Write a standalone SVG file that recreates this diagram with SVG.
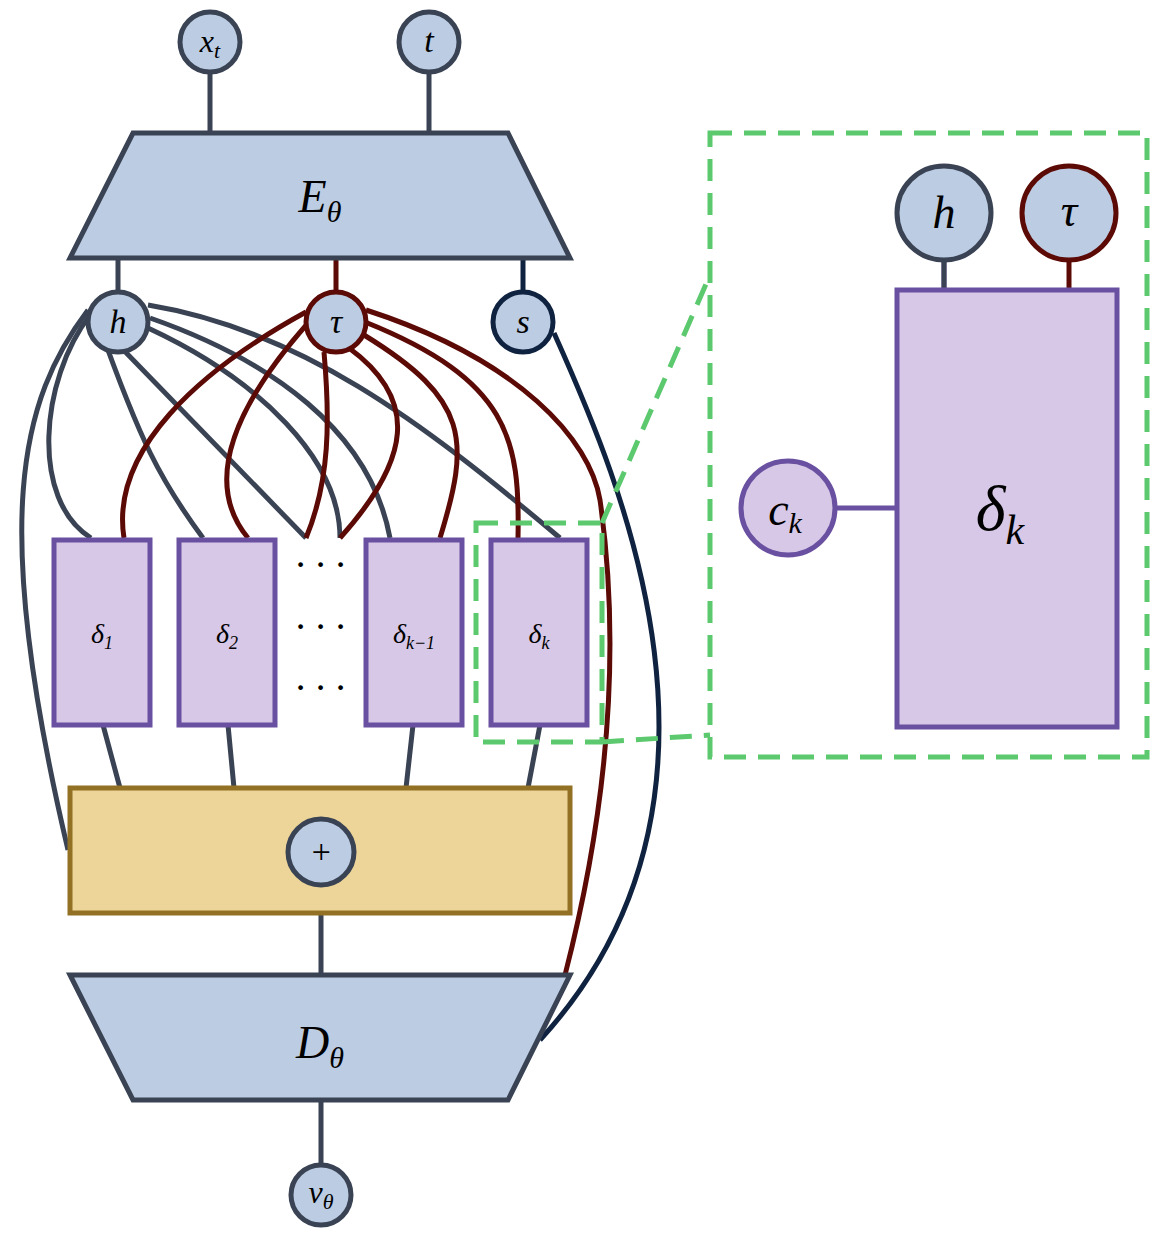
<svg xmlns="http://www.w3.org/2000/svg" width="1157" height="1240" viewBox="0 0 1157 1240">
<style>
.n{fill:#BBCCE3;stroke:#3A4354;stroke-width:5}
.r{fill:#BBCCE3;stroke:#5B0A06;stroke-width:5}
.d{fill:#D6C8E6;stroke:#6A50A0;stroke-width:5}
.g{fill:none;stroke:#3A4354;stroke-width:5}
.rl{fill:none;stroke:#5B0A06;stroke-width:5}
.gr{fill:none;stroke:#5CC96E;stroke-width:5;stroke-dasharray:22,12}
text{font-family:"Liberation Serif",serif;font-style:italic;text-anchor:middle;fill:#000}
</style>
<g id="connectors">
<path class="g" d="M210,42V135M429,42V135M118,258V300M321,913V975M321,1100V1170"/>
<path class="rl" d="M336,258V300"/>
<path d="M523,258V300" fill="none" stroke="#0F2340" stroke-width="5"/>
<path class="g" d="M88,310C20,400 -10,520 68,850"/>
<path class="g" d="M90,315C40,380 30,500 91,538"/>
<path class="g" d="M100,328C140,440 160,480 203,538"/>
<path class="g" d="M106,332L306,538"/>
<path class="g" d="M148,328C260,380 340,460 340,538"/>
<path class="g" d="M150,318C270,360 370,430 390,538"/>
<path class="g" d="M148,305C300,330 420,420 560,538"/>
<path class="rl" d="M306,312C200,370 110,450 124,538"/>
<path class="rl" d="M308,323C240,400 200,480 248,538"/>
<path class="rl" d="M324,352C330,420 330,480 306,538"/>
<path class="rl" d="M349,348C420,400 410,460 340,538"/>
<path class="rl" d="M364,335C470,400 470,440 440,538"/>
<path class="rl" d="M365,322C510,380 520,440 518,538"/>
<path class="rl" d="M366,310C520,360 590,440 600,500C620,640 610,800 565,975"/>
<path d="M554,333C620,480 760,800 540,1040" fill="none" stroke="#0F2340" stroke-width="5"/>
<path class="g" d="M103,725L120,788M228,725L234,788M413,725L406,788M540,725L528,788"/>
<path d="M835,508H897M944,258V290" fill="none" stroke="#6A50A0" stroke-width="5"/>
<path class="g" d="M944,258V290"/>
<path class="rl" d="M1069,258V290"/>
<path class="gr" d="M476,523H602V742H476ZM602,523L710,275M602,742L710,735"/>
<rect class="gr" x="710" y="133" width="437" height="624"/>
</g>
<g id="xt"><circle class="n" cx="210" cy="42" r="30"/><text x="210" y="52" font-size="32">x<tspan font-size="22" dy="6">t</tspan></text></g>
<g id="t"><circle class="n" cx="429" cy="42" r="30"/><text x="429" y="52" font-size="34">t</text></g>
<g id="E"><path class="n" d="M133,133H508L570,258H70Z"/><text x="320" y="212" font-size="46">E<tspan font-size="30" dy="10">θ</tspan></text></g>
<g id="h"><circle class="n" cx="118" cy="322" r="30"/><text x="118" y="333" font-size="34">h</text></g>
<g id="tau"><circle class="r" cx="336" cy="322" r="30"/><text x="336" y="333" font-size="34" fill="#5B0A06">τ</text></g>
<g id="s"><circle cx="523" cy="322" r="30" fill="#BBCCE3" stroke="#0F2340" stroke-width="5"/><text x="523" y="333" font-size="34">s</text></g>
<g id="d1"><rect class="d" x="54" y="540" width="96" height="185"/><text x="102" y="643" font-size="28">δ<tspan font-size="18" dy="6">1</tspan></text></g>
<g id="d2"><rect class="d" x="179" y="540" width="96" height="185"/><text x="227" y="643" font-size="28">δ<tspan font-size="18" dy="6">2</tspan></text></g>
<g id="dk1"><rect class="d" x="366" y="540" width="96" height="185"/><text x="414" y="643" font-size="28">δ<tspan font-size="18" dy="6">k−1</tspan></text></g>
<g id="dk"><rect class="d" x="491" y="540" width="96" height="185"/><text x="539" y="643" font-size="28">δ<tspan font-size="18" dy="6">k</tspan></text></g>
<g id="dots" fill="#000"><text x="320" y="578" font-size="40" font-style="normal">· · ·</text><text x="320" y="640" font-size="40" font-style="normal">· · ·</text><text x="320" y="701" font-size="40" font-style="normal">· · ·</text></g>
<g id="add"><rect x="70" y="788" width="500" height="125" fill="#EDD59A" stroke="#937124" stroke-width="5"/><circle class="n" cx="321" cy="852" r="33"/><text x="321" y="863" font-size="34" font-style="normal">+</text></g>
<g id="D"><path class="n" d="M70,975H570L508,1100H133Z"/><text x="320" y="1058" font-size="46">D<tspan font-size="30" dy="10">θ</tspan></text></g>
<g id="v"><circle class="n" cx="321" cy="1195" r="30"/><text x="321" y="1203" font-size="32">v<tspan font-size="22" dy="6">θ</tspan></text></g>
<g id="ih"><circle class="n" cx="944" cy="213" r="47"/><text x="944" y="228" font-size="46">h</text></g>
<g id="itau"><circle class="r" cx="1069" cy="213" r="47"/><text x="1069" y="226" font-size="46" fill="#5B0A06">τ</text></g>
<g id="ibox"><rect class="d" x="897" y="290" width="220" height="437"/><text x="1000" y="530" font-size="64">δ<tspan font-size="42" dy="14">k</tspan></text></g>
<g id="ck"><circle class="d" cx="788" cy="508" r="47"/><text x="785" y="525" font-size="46">c<tspan font-size="30" dy="8">k</tspan></text></g>
</svg>
